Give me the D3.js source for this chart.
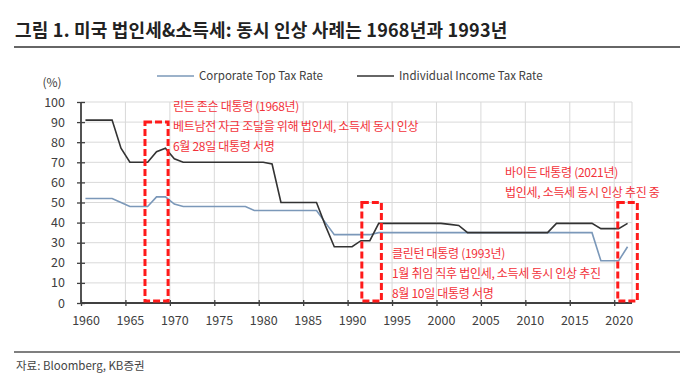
<!DOCTYPE html>
<html>
<head>
<meta charset="utf-8">
<script src="https://cdn.jsdelivr.net/npm/d3@7"></script>
<style>
  body { margin: 0; background: #fff; }
  text { font-family: "Noto Sans CJK KR", "Noto Sans", sans-serif; }
</style>
</head>
<body>
<svg id="svg1" width="694" height="388"></svg>
<script>
// categories (one per year)
var years = [1960,1961,1962,1963,1964,1965,1966,1967,1968,1969,
             1970,1971,1972,1973,1974,1975,1976,1977,1978,1979,
             1980,1981,1982,1983,1984,1985,1986,1987,1988,1989,
             1990,1991,1992,1993,1994,1995,1996,1997,1998,1999,
             2000,2001,2002,2003,2004,2005,2006,2007,2008,2009,
             2010,2011,2012,2013,2014,2015,2016,2017,2018,2019,
             2020,2021];

var corporateRate = [52,52,52,52,50,48,48,48,52.8,52.8,
                     49.2,48,48,48,48,48,48,48,48,46,
                     46,46,46,46,46,46,46,40,34,34,
                     34,34,34,35,35,35,35,35,35,35,
                     35,35,35,35,35,35,35,35,35,35,
                     35,35,35,35,35,35,35,35,21,21,
                     21,28];

var individualRate = [91,91,91,91,77,70,70,70,75.25,77,
                      71.75,70,70,70,70,70,70,70,70,70,
                      70,69.13,50,50,50,50,50,38.5,28,28,
                      28,31,31,39.6,39.6,39.6,39.6,39.6,39.6,39.6,
                      39.6,39.1,38.6,35,35,35,35,35,35,35,
                      35,35,35,39.6,39.6,39.6,39.6,39.6,37,37,
                      37,39.6];

var seriesNames = ["Corporate Top Tax Rate", "Individual Income Tax Rate"];
var yTicks = [0,10,20,30,40,50,60,70,80,90,100];
var xTickYears = [1960,1965,1970,1975,1980,1985,1990,1995,2000,2005,2010,2015,2020];

// highlighted periods: [from, to, top value]
var boxes = [[1967.2, 1969.8, 90], [1991.6, 1993.8, 50], [2020.4, 2022.6, 50]];

var notes = [
  ["린든 존슨 대통령 (1968년)", "베트남전 자금 조달을 위해 법인세, 소득세 동시 인상", "6월 28일 대통령 서명"],
  ["클린턴 대통령 (1993년)", "1월 취임 직후 법인세, 소득세 동시 인상 추진", "8월 10일 대통령 서명"],
  ["바이든 대통령 (2021년)", "법인세, 소득세 동시 인상 추진 중"]
];

var titleText = "그림 1. 미국 법인세&소득세: 동시 인상 사례는 1968년과 1993년";
var sourceText = "자료: Bloomberg, KB증권";

var svg = d3.select("#svg1");
var plotL = 81, plotR = 632, plotT = 102, plotB = 303;
var red = "#ff1a1a", noteRed = "#f2323a", axisCol = "#404040";

var x = d3.scaleLinear().domain([1960, 2022]).range([plotL, plotR]);
var y = d3.scaleLinear().domain([0, 100]).range([plotB, plotT]);
function cx(yr) { return x(yr + 0.5); }   // point sits in the middle of its year

// title
svg.append("text")
  .attr("x", 15).attr("y", 37)
  .attr("font-size", "18px").attr("font-weight", "bold")
  .attr("letter-spacing", "0.2px")
  .attr("fill", "#222")
  .text(titleText);
svg.append("line")
  .attr("x1", 14).attr("x2", 680).attr("y1", 47).attr("y2", 47)
  .attr("stroke", "#333").attr("stroke-width", 1.5);

// gridlines
var g = svg.append("g");
g.selectAll(".hgrid").data(yTicks.slice(1)).enter().append("line")
  .attr("x1", plotL).attr("x2", plotR)
  .attr("y1", function(d) { return y(d); }).attr("y2", function(d) { return y(d); })
  .attr("stroke", "#d9d9d9").attr("stroke-width", 1);
g.selectAll(".vgrid").data(xTickYears.slice(1).concat([2022])).enter().append("line")
  .attr("x1", function(d) { return x(d); }).attr("x2", function(d) { return x(d); })
  .attr("y1", plotT).attr("y2", plotB)
  .attr("stroke", "#d9d9d9").attr("stroke-width", 1);

// axes
var yAxis = g.append("g")
  .attr("transform", "translate(" + plotL + ",0)")
  .call(d3.axisLeft(y).tickValues(yTicks).tickSize(4).tickPadding(12));
yAxis.selectAll(".tick line").attr("x2", 4).attr("x1", -4);

var xAxis = g.append("g")
  .attr("transform", "translate(0," + plotB + ")")
  .call(d3.axisBottom(x).tickValues(xTickYears).tickFormat(d3.format("d")).tickSize(3).tickPadding(10));
xAxis.selectAll(".tick line").attr("y1", -3).attr("y2", 3);
xAxis.selectAll(".tick text").attr("dx", 4.5);

[yAxis, xAxis].forEach(function(a) {
  a.select(".domain").attr("stroke", axisCol).attr("stroke-width", 1.8);
  a.selectAll(".tick line").attr("stroke", axisCol).attr("stroke-width", 1.3);
  a.selectAll(".tick text").attr("fill", "#404040").attr("font-size", "12.5px")
    .attr("font-family", "'Noto Sans CJK KR', sans-serif");
});
xAxis.select(".domain").attr("d", "M" + plotL + ",0H" + plotR);
yAxis.select(".domain").attr("d", "M0," + plotB + "V" + plotT);

svg.append("text")
  .attr("x", 52).attr("y", 87).attr("text-anchor", "middle")
  .attr("font-size", "12px").attr("fill", "#404040")
  .text("(%)");

// lines
var line = d3.line()
  .x(function(d, i) { return cx(years[i]); })
  .y(function(d) { return y(d); });

g.append("path").datum(corporateRate)
  .attr("fill", "none").attr("stroke", "#7b98b9").attr("stroke-width", 1.6)
  .attr("d", line);
g.append("path").datum(individualRate)
  .attr("fill", "none").attr("stroke", "#333333").attr("stroke-width", 1.6)
  .attr("d", line);

// red dashed boxes
g.selectAll(".box").data(boxes).enter().append("rect")
  .attr("x", function(d) { return x(d[0]); })
  .attr("y", function(d) { return y(d[2]); })
  .attr("width", function(d) { return x(d[1]) - x(d[0]); })
  .attr("height", function(d) { return y(1) - y(d[2]); })
  .attr("fill", "none").attr("stroke", red).attr("stroke-width", 3)
  .attr("stroke-dasharray", "7,3");

// annotations
var notePos = [[173, 111, 20], [392, 258, 20], [505, 177, 20]];
notes.forEach(function(lines, k) {
  var t = svg.append("text")
    .attr("font-size", "12px").attr("fill", noteRed)
    .attr("letter-spacing", "-0.3px");
  lines.forEach(function(s, j) {
    t.append("tspan")
      .attr("x", notePos[k][0]).attr("y", notePos[k][1] + j * notePos[k][2])
      .text(s);
  });
});

// legend
var legCol = ["#7b98b9", "#333333"];
var legX = [157, 357];
seriesNames.forEach(function(name, i) {
  svg.append("line")
    .attr("x1", legX[i]).attr("x2", legX[i] + 37).attr("y1", 76).attr("y2", 76)
    .attr("stroke", legCol[i]).attr("stroke-width", 1.6);
  svg.append("text")
    .attr("x", legX[i] + 42).attr("y", 80)
    .attr("font-size", "11.5px").attr("fill", "#404040")
    .text(name);
});

// source
svg.append("line")
  .attr("x1", 14).attr("x2", 680).attr("y1", 352).attr("y2", 352)
  .attr("stroke", "#555").attr("stroke-width", 1.5);
svg.append("text")
  .attr("x", 16).attr("y", 370)
  .attr("font-size", "11.5px").attr("fill", "#444")
  .text(sourceText);
</script>
</body>
</html>
